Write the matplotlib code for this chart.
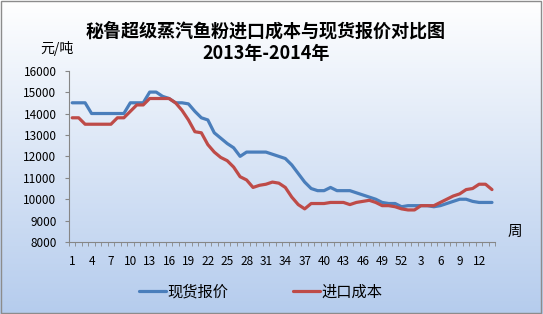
import matplotlib.pyplot as plt
import numpy as np

plt.rcParams['font.family'] = ['Noto Sans CJK SC', 'DejaVu Sans']

# weeks: 2013 wk1-52, then 2014 wk1-14
weeks = list(range(1, 53)) + list(range(1, 15))

spot_price = [14500, 14500, 14500, 14000, 14000, 14000, 14000, 14000, 14000, 14500,
              14500, 14500, 15000, 15000, 14800, 14700, 14500, 14500, 14450, 14100,
              13800, 13700, 13100, 12850, 12600, 12400, 12000, 12200, 12200, 12200,
              12200, 12100, 12000, 11900, 11600, 11200, 10800, 10500, 10400, 10400,
              10550, 10400, 10400, 10400, 10300, 10200, 10100, 10000, 9850, 9800,
              9800, 9650, 9700, 9700, 9700, 9700, 9650, 9700, 9800, 9900,
              10000, 10000, 9900, 9850, 9850, 9850]

import_cost = [13800, 13800, 13500, 13500, 13500, 13500, 13500, 13800, 13800, 14100,
               14400, 14400, 14700, 14700, 14700, 14700, 14500, 14150, 13700, 13150,
               13100, 12550, 12200, 11950, 11800, 11500, 11050, 10900, 10550, 10650,
               10700, 10800, 10750, 10550, 10100, 9750, 9550, 9800, 9800, 9800,
               9850, 9850, 9850, 9750, 9850, 9900, 9950, 9850, 9700, 9700,
               9650, 9550, 9500, 9500, 9700, 9700, 9700, 9850, 10000, 10150,
               10250, 10450, 10500, 10700, 10700, 10450]

series_names = ['现货报价', '进口成本']
title_lines = ['秘鲁超级蒸汽鱼粉进口成本与现货报价对比图', '2013年-2014年']

fig = plt.figure(figsize=(5.43, 3.14), dpi=100)

# background gradient, white to light blue
bg = fig.add_axes([0, 0, 1, 1], zorder=-1)
grad = np.linspace(0, 1, 256).reshape(-1, 1)
top = np.array([1.0, 1.0, 1.0])
bottom = np.array([0.71, 0.80, 0.93])
img = top + (bottom - top) * grad[..., None]
bg.imshow(img, aspect='auto', extent=[0, 1, 0, 1], origin='upper')
bg.set_xlim(0, 1)
bg.set_ylim(0, 1)
bg.axis('off')
bg.add_patch(plt.Rectangle((0.002, 0.003), 0.995, 0.993, fill=False,
                           edgecolor='#8c8c8c', linewidth=1))

ax = fig.add_axes([0.127, 0.229, 0.785, 0.546])
ax.patch.set_alpha(0)
x = np.arange(len(weeks))
l1, = ax.plot(x, spot_price, color='#4A7EBB', linewidth=2.3, solid_capstyle='round')
l2, = ax.plot(x, import_cost, color='#BE4B48', linewidth=2.3, solid_capstyle='round')

ax.set_xlim(-0.5, len(weeks) - 0.5)
ax.set_ylim(8000, 16000)
ax.set_yticks(range(8000, 16001, 1000))
ax.set_xticks(x[::3])
ax.set_xticklabels([str(w) for w in weeks[::3]])
ax.set_xticks(np.arange(-0.5, len(weeks), 1), minor=True)
ax.tick_params(axis='x', which='major', length=0, pad=9, labelsize=8.5)
ax.tick_params(axis='x', which='minor', length=3, direction='out', color='#868686')
ax.tick_params(axis='y', length=3, direction='out', color='#868686', labelsize=8.5, pad=6)
for s in ['top', 'right']:
    ax.spines[s].set_visible(False)
for s in ['left', 'bottom']:
    ax.spines[s].set_color('#868686')
    ax.spines[s].set_linewidth(0.8)

fig.text(0.49, 0.9, title_lines[0], ha='center', va='center',
         fontsize=13, fontweight='bold')
fig.text(0.49, 0.83, title_lines[1], ha='center', va='center',
         fontsize=13, fontweight='bold')
fig.text(0.105, 0.845, '元/吨', ha='center', va='center', fontsize=10)
fig.text(0.948, 0.262, '周', ha='center', va='center', fontsize=10.5)

fig.legend([l1, l2], series_names, loc='center', bbox_to_anchor=(0.48, 0.07),
           ncol=2, frameon=False, fontsize=11, handlelength=1.8,
           handletextpad=0.1, columnspacing=4.2)

fig.savefig('out.png', dpi=100)
